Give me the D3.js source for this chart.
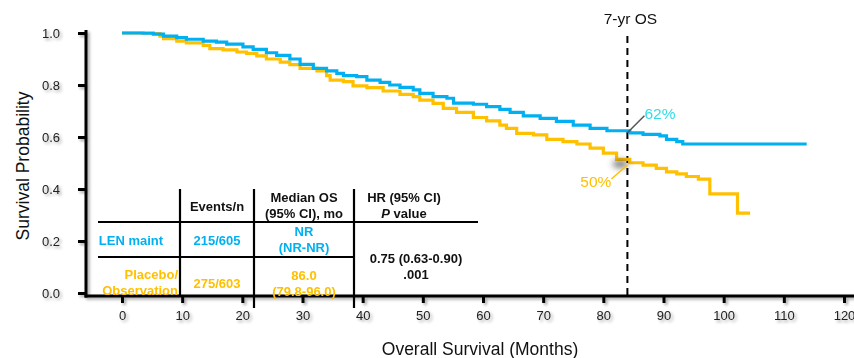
<!DOCTYPE html>
<html><head><meta charset="utf-8">
<script src="https://cdn.jsdelivr.net/npm/d3@7"></script>
<style>
body{margin:0;background:#fff;}
text{font-family:"Liberation Sans",Arial,Helvetica,sans-serif;}
</style></head>
<body><svg id="c" width="854" height="358"></svg>
<script>
// ---- data ----
const lenMonths = [0,3.5,5.2,6.9,9.1,10.7,13.5,15.7,17.4,20.1,21.8,24,25.7,27.9,29.6,31.8,34,35.7,36.8,39,40.7,42.9,44.5,46.2,48.4,49.5,51.7,54,55.1,58.4,60.6,62.8,64.5,66.7,69.5,72.2,75,77.8,80.6,84.4,86.6,89.4,90.5,92.2,93.2,113.8];
const lenSurv   = [1.0,0.999,0.996,0.988,0.982,0.976,0.969,0.965,0.957,0.947,0.937,0.924,0.914,0.9,0.879,0.864,0.854,0.845,0.836,0.832,0.819,0.81,0.8,0.791,0.781,0.768,0.755,0.749,0.73,0.726,0.717,0.706,0.695,0.681,0.672,0.66,0.646,0.633,0.624,0.616,0.61,0.604,0.591,0.582,0.573,0.573];
const plcMonths = [0,5.2,6.3,6.9,9.1,10.7,13.5,14.6,16.8,19.1,20.7,22.4,24,26.3,27.9,29.6,32.4,34,34.6,36.8,38.4,40.7,43.4,46.2,48.4,49.5,51.7,53.4,55.6,58.4,60.6,62.8,63.9,65.6,68.4,70.6,73.3,75.6,77.8,80,82.2,84.4,86.6,88.8,90.5,92.2,93.8,95.8,97.7,102.3,104.4];
const plcSurv   = [1.0,0.998,0.988,0.978,0.969,0.962,0.952,0.94,0.935,0.927,0.922,0.912,0.9,0.888,0.878,0.864,0.854,0.836,0.819,0.813,0.797,0.79,0.777,0.764,0.755,0.742,0.729,0.71,0.695,0.675,0.662,0.646,0.633,0.614,0.608,0.591,0.582,0.573,0.557,0.538,0.514,0.501,0.492,0.479,0.466,0.458,0.448,0.438,0.381,0.307,0.307];
const xTicks = [0,10,20,30,40,50,60,70,80,90,100,110,120];
const yTicks = [0,0.2,0.4,0.6,0.8,1.0];
const markMonth = 84;
const lenAt7 = 0.62, plcAt7 = 0.50;
const headers = [["Events/n"],["Median OS","(95% CI), mo"],["HR (95% CI)","P value"]];
const lenRow = {name:["LEN maint"], events:"215/605", median:["NR","(NR-NR)"]};
const plcRow = {name:["Placebo/","Observation"], events:"275/603", median:["86.0","(79.8-96.0)"]};
const hrText = ["0.75 (0.63-0.90)",".001"];

const BLUE="#00b0f0", YEL="#ffc000";
const svg = d3.select("#c");
const defs = svg.append("defs");
const f = defs.append("filter").attr("id","sh").attr("x","-10%").attr("y","-10%").attr("width","130%").attr("height","130%");
f.append("feDropShadow").attr("dx",2).attr("dy",2).attr("stdDeviation",1.5).attr("flood-color","#000").attr("flood-opacity",0.35);
const bl = defs.append("filter").attr("id","blur").attr("x","-100%").attr("y","-100%").attr("width","300%").attr("height","300%");
bl.append("feGaussianBlur").attr("stdDeviation",3);

const x = d3.scaleLinear().domain([0,120]).range([122,844]);
const y = d3.scaleLinear().domain([0,1]).range([293,33]);
const axY = 296, axX = 86;

// axes
const ga = svg.append("g").attr("filter","url(#sh)");
const xa = ga.append("g").attr("transform",`translate(0,${axY})`)
  .call(d3.axisBottom(x).tickValues(xTicks).tickSize(7).tickPadding(8).tickFormat(d3.format("d")));
xa.select(".domain").remove();
xa.selectAll(".tick line").attr("stroke","#000").attr("stroke-width",3);
xa.selectAll(".tick text").attr("font-size",13).attr("fill","#222");
const ya = ga.append("g").attr("transform",`translate(${axX},0)`)
  .call(d3.axisLeft(y).tickValues(yTicks).tickSize(8).tickPadding(18).tickFormat(d3.format(".1f")));
ya.select(".domain").remove();
ya.selectAll(".tick line").attr("stroke","#000").attr("stroke-width",3);
ya.selectAll(".tick text").attr("font-size",13).attr("fill","#222");
ga.append("line").attr("x1",axX).attr("x2",axX).attr("y1",30).attr("y2",axY+1.5).attr("stroke","#000").attr("stroke-width",3);
ga.append("line").attr("x1",axX-1.5).attr("x2",854).attr("y1",axY).attr("y2",axY).attr("stroke","#000").attr("stroke-width",3);

// dashed line
svg.append("line").attr("x1",x(markMonth)).attr("x2",x(markMonth)).attr("y1",36).attr("y2",axY)
  .attr("stroke","#000").attr("stroke-width",2).attr("stroke-dasharray","7,5");
svg.append("text").attr("x",x(markMonth)+3).attr("y",24).attr("text-anchor","middle").attr("font-size",15.5).attr("fill","#111").text("7-yr OS");

// curves
const line = d3.line().curve(d3.curveStepAfter).x(d=>x(d[0])).y(d=>y(d[1]));
svg.append("path").datum(plcMonths.map((m,i)=>[m,plcSurv[i]])).attr("d",line)
  .attr("fill","none").attr("stroke",YEL).attr("stroke-width",3.2);
svg.append("path").datum(lenMonths.map((m,i)=>[m,lenSurv[i]])).attr("d",line)
  .attr("fill","none").attr("stroke",BLUE).attr("stroke-width",3.2);

// annotations
const px = x(markMonth);
svg.append("ellipse").attr("cx",px-7).attr("cy",y(plcAt7)+1).attr("rx",8).attr("ry",4).attr("fill","#444").attr("opacity",0.7).attr("filter","url(#blur)");
svg.append("line").attr("x1",px).attr("y1",y(lenAt7)+1).attr("x2",px+17).attr("y2",y(lenAt7)-16).attr("stroke","#555").attr("stroke-width",1.5);
svg.append("text").attr("x",px+17).attr("y",y(lenAt7)-13).attr("font-size",15.5).attr("fill","#33dde8").text("62%");
svg.append("line").attr("x1",px).attr("y1",y(plcAt7)+2).attr("x2",px-16).attr("y2",y(plcAt7)+16).attr("stroke",YEL).attr("stroke-width",1.5);
svg.append("text").attr("x",px-16).attr("y",y(plcAt7)+24).attr("text-anchor","end").attr("font-size",15.5).attr("fill",YEL).text("50%");

// axis titles
svg.append("text").attr("x",480).attr("y",355).attr("text-anchor","middle").attr("font-size",17.5).attr("fill","#111").text("Overall Survival (Months)");
svg.append("text").attr("transform","translate(29,166) rotate(-90)").attr("text-anchor","middle").attr("font-size",17.5).attr("fill","#111").text("Survival Probability");

// table
const T = svg.append("g");
const tl = (x1,y1,x2,y2)=>T.append("line").attr("x1",x1).attr("y1",y1).attr("x2",x2).attr("y2",y2).attr("stroke","#000").attr("stroke-width",2.2);
tl(180,189,180,297); tl(254,189,254,308); tl(354,189,354,308);
tl(98,222,478,222); tl(98,257,354,257);
const tt = (xx,yy,s,col,anchor)=>T.append("text").attr("x",xx).attr("y",yy).attr("text-anchor",anchor||"middle")
  .attr("font-size",13).attr("font-weight","bold").attr("fill",col).text(s);
tt(217,211,headers[0][0],"#111");
tt(304,202,headers[1][0],"#111"); tt(304,218,headers[1][1],"#111");
tt(404,202,headers[2][0],"#111");
const pv = T.append("text").attr("x",404).attr("y",218).attr("text-anchor","middle").attr("font-size",13).attr("font-weight","bold").attr("fill","#111");
pv.append("tspan").attr("font-style","italic").text("P");
pv.append("tspan").text(headers[2][1].slice(1));
tt(131,245,lenRow.name[0],BLUE);
tt(217,245,lenRow.events,BLUE);
tt(304,236,lenRow.median[0],BLUE); tt(304,252,lenRow.median[1],BLUE);
tt(178,279,plcRow.name[0],YEL,"end"); tt(178,295,plcRow.name[1],YEL,"end");
tt(217,288,plcRow.events,YEL);
tt(304,280,plcRow.median[0],YEL); tt(304,296,plcRow.median[1],YEL);
tt(416,263,hrText[0],"#111"); tt(416,279,hrText[1],"#111");
</script></body></html>
